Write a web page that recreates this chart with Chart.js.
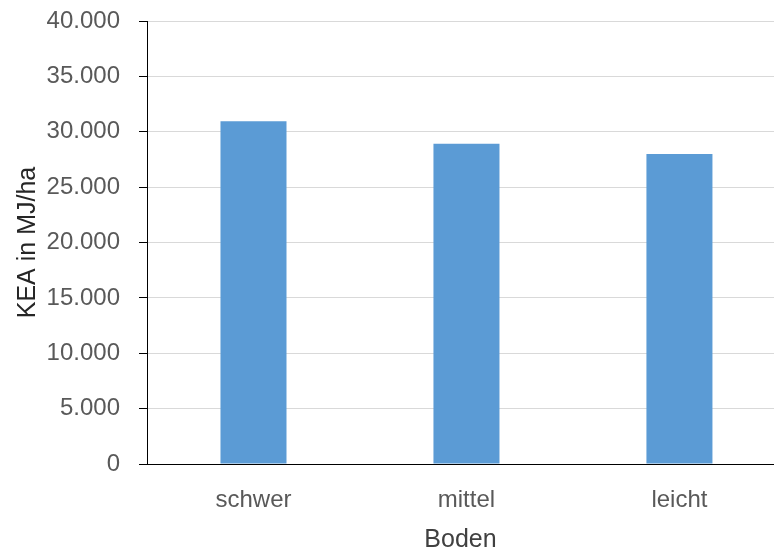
<!DOCTYPE html>
<html lang="de">
<head>
<meta charset="utf-8">
<title>KEA nach Boden</title>
<script src="https://cdn.jsdelivr.net/npm/chart.js@4.4.1/dist/chart.umd.min.js"></script>
<style>
    html, body { margin: 0; padding: 0; background: #fff; }
    #wrap { width: 774px; height: 555px; position: relative; }
</style>
</head>
<body>
<div id="wrap"><canvas id="keaChart"></canvas></div>
<script>
const categories = ['schwer', 'mittel', 'leicht'];
const keaValues = [30950, 28920, 28000];
const yTicks = [0, 5000, 10000, 15000, 20000, 25000, 30000, 35000, 40000];

const FONT = '"Liberation Sans", Arial, sans-serif';

function formatGerman(value) {
    return String(Math.round(value)).replace(/\B(?=(\d{3})+(?!\d))/g, '.');
}

// the original plot runs past the right edge, so the x axis is linear
// and categories sit at 0, 1, 2
const points = categories.map((label, i) => ({ x: i, y: keaValues[i] }));

new Chart(document.getElementById('keaChart'), {
    type: 'bar',
    data: {
        datasets: [{
            label: 'KEA',
            data: points,
            backgroundColor: '#5b9bd5',
            borderWidth: 0,
            categoryPercentage: 1,
            barPercentage: 0.31,
        }],
    },
    options: {
        responsive: true,
        maintainAspectRatio: false,
        animation: false,
        events: [],
        layout: { padding: { top: 21, right: 0, left: 0, bottom: 0 } },
        plugins: {
            legend: { display: false },
            tooltip: { enabled: false },
        },
        scales: {
            x: {
                type: 'linear',
                offset: false,
                min: -0.5,
                max: 2.444,
                afterBuildTicks(scale) {
                    scale.ticks = categories.map((_, i) => ({ value: i }));
                },
                afterFit(scale) {
                    scale.height = 91;
                },
                grid: { display: false, drawTicks: false },
                border: { display: true, color: '#000', width: 1 },
                ticks: {
                    padding: 22,
                    color: '#595959',
                    font: { family: FONT, size: 24 },
                    maxRotation: 0,
                    autoSkip: false,
                    callback: (value) => categories[value] ?? '',
                },
                title: {
                    display: true,
                    text: 'Boden',
                    color: '#404040',
                    font: { family: FONT, size: 25 },
                    padding: { top: 0, bottom: 0 },
                },
            },
            y: {
                min: 0,
                max: 40000,
                afterBuildTicks(scale) {
                    scale.ticks = yTicks.map((value) => ({ value }));
                },
                afterFit(scale) {
                    scale.width = 147;
                    scale.paddingTop = 0;
                    scale.paddingBottom = 0;
                },
                grid: { color: '#d9d9d9', lineWidth: 1, tickColor: '#000', tickLength: 8 },
                border: { display: true, color: '#000', width: 1 },
                ticks: {
                    padding: 19,
                    color: '#595959',
                    font: { family: FONT, size: 24 },
                    callback: (value) => formatGerman(value),
                },
                title: {
                    display: true,
                    text: 'KEA in MJ/ha',
                    color: '#262626',
                    font: { family: FONT, size: 25 },
                    padding: { top: 13, bottom: 0 },
                },
            },
        },
    },
});
</script>
</body>
</html>
